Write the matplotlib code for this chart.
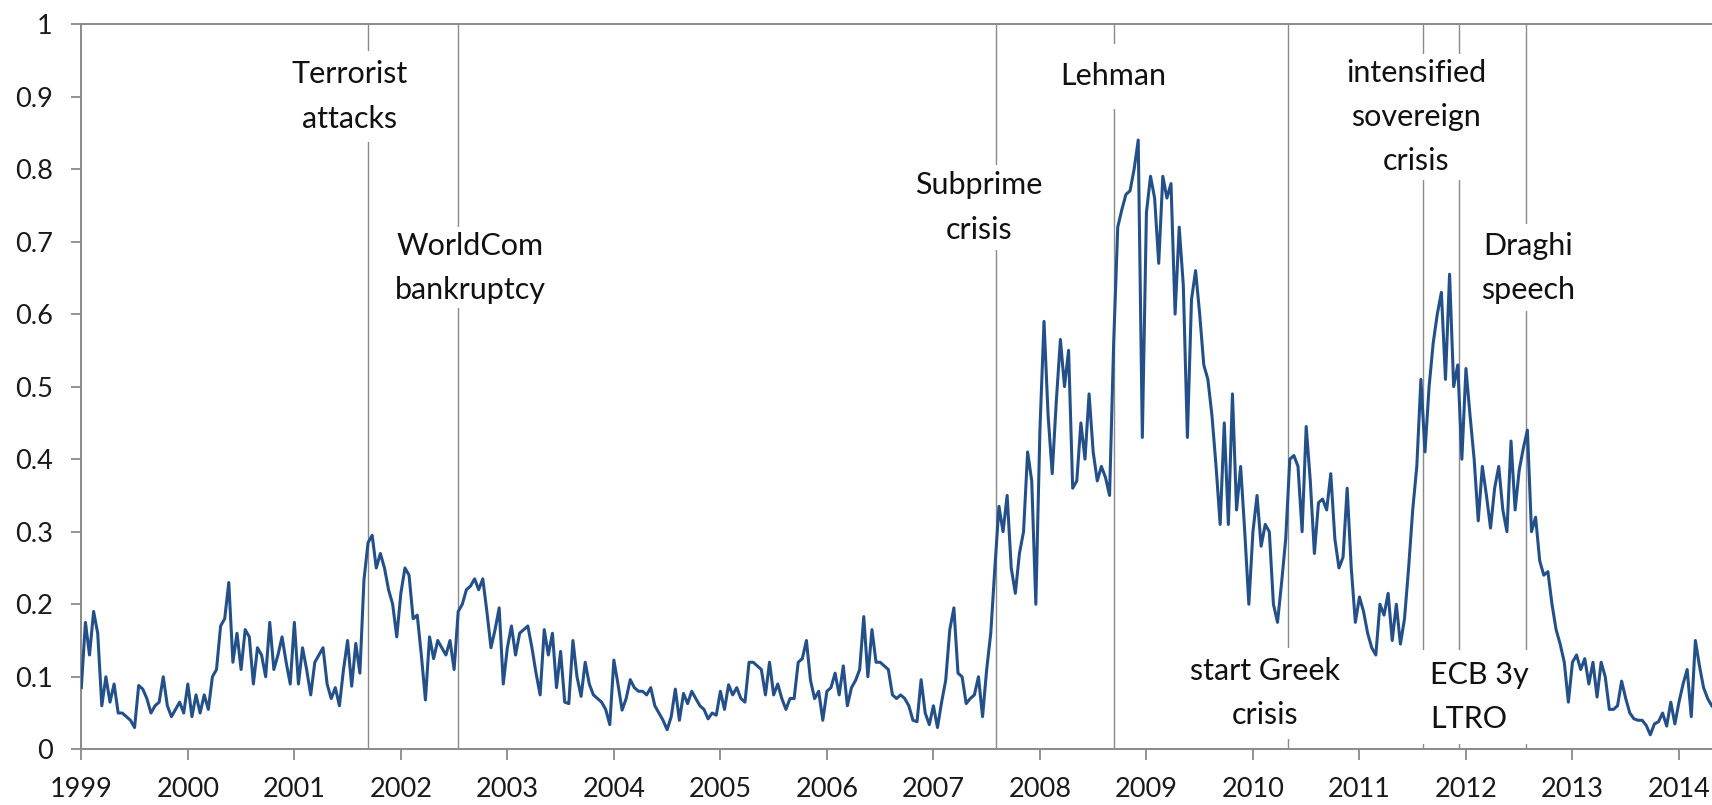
import matplotlib
matplotlib.use("Agg")
import matplotlib.pyplot as plt
import numpy as np

plt.rcParams['font.family'] = ['Lato', 'DejaVu Sans']

# biweekly readings, 26 per year (2014 only to early April)
v1999 = [0.085, 0.175, 0.13, 0.19, 0.16, 0.06, 0.10, 0.065, 0.09, 0.05, 0.05, 0.045, 0.04,
         0.03, 0.088, 0.083, 0.07, 0.05, 0.06, 0.065, 0.10, 0.06, 0.045, 0.055, 0.065, 0.05]
v2000 = [0.09, 0.045, 0.075, 0.05, 0.075, 0.055, 0.10, 0.11, 0.17, 0.18, 0.23, 0.12, 0.16,
         0.11, 0.165, 0.155, 0.09, 0.14, 0.13, 0.10, 0.175, 0.11, 0.13, 0.155, 0.12, 0.09]
v2001 = [0.175, 0.09, 0.14, 0.11, 0.075, 0.12, 0.13, 0.14, 0.09, 0.07, 0.085, 0.06, 0.11,
         0.15, 0.087, 0.146, 0.105, 0.234, 0.285, 0.295, 0.25, 0.27, 0.25, 0.22, 0.20, 0.155]
v2002 = [0.215, 0.25, 0.24, 0.18, 0.185, 0.13, 0.068, 0.155, 0.125, 0.15, 0.14, 0.13, 0.15,
         0.11, 0.19, 0.20, 0.22, 0.225, 0.235, 0.22, 0.235, 0.19, 0.14, 0.165, 0.195, 0.09]
v2003 = [0.14, 0.17, 0.13, 0.16, 0.165, 0.17, 0.14, 0.105, 0.075, 0.165, 0.13, 0.16, 0.085,
         0.135, 0.065, 0.063, 0.15, 0.10, 0.073, 0.12, 0.09, 0.075, 0.07, 0.065, 0.055, 0.034]
v2004 = [0.123, 0.09, 0.054, 0.07, 0.096, 0.085, 0.08, 0.08, 0.075, 0.085, 0.06, 0.05, 0.04,
         0.027, 0.045, 0.083, 0.04, 0.077, 0.063, 0.08, 0.07, 0.06, 0.055, 0.042, 0.05, 0.047]
v2005 = [0.08, 0.055, 0.089, 0.075, 0.085, 0.07, 0.065, 0.12, 0.12, 0.115, 0.11, 0.075, 0.12,
         0.075, 0.09, 0.07, 0.055, 0.07, 0.07, 0.12, 0.125, 0.15, 0.095, 0.07, 0.08, 0.04]
v2006 = [0.08, 0.085, 0.105, 0.075, 0.115, 0.06, 0.085, 0.095, 0.11, 0.183, 0.10, 0.165, 0.12,
         0.12, 0.115, 0.11, 0.075, 0.07, 0.075, 0.07, 0.06, 0.04, 0.038, 0.096, 0.05, 0.034]
v2007 = [0.06, 0.03, 0.065, 0.095, 0.165, 0.195, 0.105, 0.10, 0.063, 0.07, 0.075, 0.10, 0.045,
         0.11, 0.16, 0.25, 0.335, 0.30, 0.35, 0.25, 0.215, 0.27, 0.30, 0.41, 0.37, 0.20]
v2008 = [0.44, 0.59, 0.46, 0.38, 0.48, 0.565, 0.50, 0.55, 0.36, 0.37, 0.45, 0.40, 0.49,
         0.41, 0.37, 0.39, 0.375, 0.35, 0.56, 0.72, 0.744, 0.765, 0.77, 0.80, 0.84, 0.43]
v2009 = [0.74, 0.79, 0.76, 0.67, 0.79, 0.76, 0.78, 0.60, 0.72, 0.64, 0.43, 0.62, 0.66,
         0.60, 0.53, 0.51, 0.46, 0.39, 0.31, 0.45, 0.31, 0.49, 0.33, 0.39, 0.30, 0.20]
v2010 = [0.30, 0.35, 0.28, 0.31, 0.30, 0.20, 0.175, 0.23, 0.29, 0.40, 0.405, 0.39, 0.30,
         0.445, 0.37, 0.27, 0.34, 0.345, 0.33, 0.38, 0.29, 0.25, 0.265, 0.36, 0.25, 0.175]
v2011 = [0.21, 0.19, 0.16, 0.14, 0.13, 0.20, 0.185, 0.215, 0.15, 0.20, 0.145, 0.18, 0.25,
         0.33, 0.39, 0.51, 0.41, 0.50, 0.56, 0.60, 0.63, 0.51, 0.655, 0.50, 0.53, 0.40]
v2012 = [0.525, 0.46, 0.40, 0.315, 0.39, 0.35, 0.305, 0.36, 0.39, 0.33, 0.30, 0.425, 0.33,
         0.385, 0.415, 0.44, 0.30, 0.32, 0.26, 0.24, 0.245, 0.20, 0.165, 0.145, 0.12, 0.065]
v2013 = [0.12, 0.13, 0.11, 0.125, 0.09, 0.12, 0.072, 0.12, 0.10, 0.055, 0.055, 0.06, 0.094,
         0.07, 0.05, 0.042, 0.04, 0.04, 0.033, 0.02, 0.035, 0.038, 0.05, 0.032, 0.065, 0.035]
v2014 = [0.065, 0.09, 0.11, 0.045, 0.15, 0.115, 0.085, 0.07, 0.06]

yearly = [v1999, v2000, v2001, v2002, v2003, v2004, v2005, v2006, v2007,
          v2008, v2009, v2010, v2011, v2012, v2013, v2014]
first_year = 1999

# events (decimal year of the vertical line)
event_dates = [2001.69, 2002.54, 2007.59, 2008.695, 2010.33, 2011.595, 2011.93, 2012.56]
event_labels = ["Terrorist\nattacks", "WorldCom\nbankruptcy", "Subprime\ncrisis", "Lehman",
                "start Greek\ncrisis", "intensified\nsovereign\ncrisis", "ECB 3y\nLTRO",
                "Draghi\nspeech"]

# label placement: x, y, horizontal alignment, box padding
label_pos = [(2001.52, 0.90, 'center', 0.3),
             (2002.65, 0.664, 'center', 0.15),
             (2007.43, 0.747, 'center', 0.22),
             (2008.69, 0.928, 'center', 0.6),
             (2010.11, 0.077, 'center', 0.3),
             (2011.53, 0.872, 'center', 0.15),
             (2011.665, 0.072, 'left', 0.35),
             (2012.58, 0.664, 'center', 0.25)]

t = []
vals = []
for i, yv in enumerate(yearly):
    for k, v in enumerate(yv):
        t.append(first_year + i + k / 26.0)
        vals.append(v)

fig = plt.figure(figsize=(17.12, 8.05), dpi=100)
ax = fig.add_axes([0.0475, 0.0692, 0.9525, 0.901])

grey = '#8a8a8a'
for d in event_dates:
    ax.axvline(d, color=grey, linewidth=1.0, zorder=1)

ax.plot(t, vals, color='#24508a', linewidth=2.2, zorder=3)

for lab, (x, y, ha, pad) in zip(event_labels, label_pos):
    ax.text(x, y, lab, ha=ha, va='center', multialignment=ha, fontsize=22,
            color='#111111', linespacing=1.7, zorder=4,
            bbox=dict(boxstyle='square,pad=%s' % pad, facecolor='white', edgecolor='none'))

ax.set_xlim(1999, 2014.31)
ax.set_ylim(0, 1)
ax.set_xticks(range(1999, 2015))
ax.set_yticks(np.arange(0, 1.01, 0.1))
ax.set_yticklabels(['0', '0.1', '0.2', '0.3', '0.4', '0.5', '0.6', '0.7', '0.8', '0.9', '1'])

for s in ['left', 'bottom', 'top']:
    ax.spines[s].set_color(grey)
    ax.spines[s].set_linewidth(1.4)
ax.spines['right'].set_visible(False)

ax.tick_params(axis='both', direction='out', color=grey, width=1.3,
               labelsize=19.5, labelcolor='#1a1a1a')
ax.tick_params(axis='x', length=8, pad=12)
ax.tick_params(axis='y', length=7.5, pad=13)

plt.savefig('out.png', dpi=100)
